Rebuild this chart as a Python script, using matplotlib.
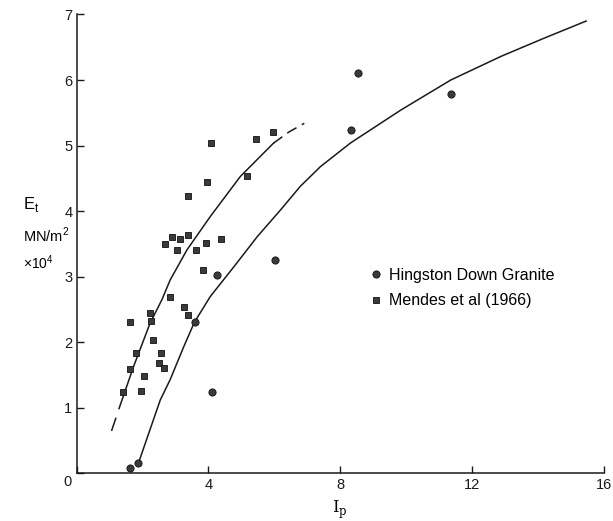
"""Tangent modulus E_t against point-load index I_p: Hingston Down Granite vs Mendes et al (1966)."""

import matplotlib

matplotlib.use("Agg")
import matplotlib.pyplot as plt
from matplotlib.lines import Line2D

# Hingston Down Granite (circles)
hingston_ip = [1.62, 1.88, 3.58, 4.10, 4.26, 6.02, 8.33, 8.55, 11.35]
hingston_et = [0.08, 0.16, 2.31, 1.25, 3.02, 3.25, 5.24, 6.11, 5.78]

# Mendes et al (1966) (squares)
mendes_ip = [4.09, 5.45, 5.95, 3.97, 5.16, 3.38, 2.89, 3.14, 3.38, 2.68,
             3.05, 3.93, 3.62, 4.37, 3.84, 2.85, 3.26, 3.38, 2.23, 1.63,
             2.26, 2.32, 1.79, 2.55, 2.51, 2.66, 1.62, 2.04, 1.97, 1.41]
mendes_et = [5.04, 5.10, 5.21, 4.44, 4.54, 4.23, 3.61, 3.58, 3.64, 3.50,
             3.41, 3.52, 3.41, 3.58, 3.10, 2.69, 2.54, 2.41, 2.44, 2.31,
             2.32, 2.03, 1.83, 1.83, 1.69, 1.61, 1.59, 1.49, 1.26, 1.24]

# hand-drawn trend curves
hingston_curve_ip = [1.88, 2.54, 2.84, 3.25, 3.58, 4.06, 4.77, 5.48, 6.19, 6.79,
                     7.40, 8.31, 9.83, 11.35, 12.87, 14.19, 15.46]
hingston_curve_et = [0.16, 1.12, 1.43, 1.93, 2.31, 2.70, 3.15, 3.61, 4.02, 4.38,
                     4.68, 5.04, 5.54, 6.00, 6.36, 6.64, 6.90]

mendes_curve_ip = [1.29, 1.73, 2.23, 2.59, 2.84, 3.35, 4.06, 4.97, 5.98]
mendes_curve_et = [0.99, 1.63, 2.29, 2.65, 2.95, 3.41, 3.92, 4.53, 5.04]
mendes_low_dash_ip = [1.07, 1.19]
mendes_low_dash_et = [0.66, 0.84]
mendes_high_dash_ip = [5.98, 6.45, 6.91]
mendes_high_dash_et = [5.04, 5.21, 5.34]

x_ticks = [0, 4, 8, 12, 16]
y_ticks = [0, 1, 2, 3, 4, 5, 6, 7]

plt.rcParams.update(
    {
        "font.family": ["Liberation Sans", "DejaVu Sans"],
        "font.size": 10.5,
    }
)

fig = plt.figure(figsize=(6.13, 5.21), dpi=100)
ax = fig.add_axes([0.1248, 0.0912, 0.8605, 0.881])

ink = "#1a1a1a"
mark = "#3a3a3a"

ax.plot(hingston_curve_ip, hingston_curve_et, color=ink, lw=1.1)
ax.plot(mendes_curve_ip, mendes_curve_et, color=ink, lw=1.1)
ax.plot(mendes_low_dash_ip, mendes_low_dash_et, color=ink, lw=1.1)
ax.plot(mendes_high_dash_ip, mendes_high_dash_et, color=ink, lw=1.1, dashes=(7, 4))

ax.plot(hingston_ip, hingston_et, "o", ms=5.2, color=mark, mec="#111111", mew=0.6)
ax.plot(mendes_ip, mendes_et, "s", ms=4.6, color=mark, mec="#111111", mew=0.6)

ax.set_xlim(0, 16)
ax.set_ylim(0, 7)
ax.set_xticks(x_ticks)
ax.set_xticklabels([""] + [str(t) for t in x_ticks[1:]])
ax.set_yticks(y_ticks)
ax.set_yticklabels([""] + [str(t) for t in y_ticks[1:]])
ax.tick_params(axis="x", direction="in", length=5, width=1, pad=3, colors=ink)
ax.tick_params(axis="y", direction="in", length=5, width=1, pad=3, colors=ink)
for side in ("top", "right"):
    ax.spines[side].set_visible(False)
for side in ("left", "bottom"):
    ax.spines[side].set_linewidth(1.1)
    ax.spines[side].set_color(ink)

# shared origin label
ax.text(-0.15, -0.03, "0", ha="right", va="top", fontsize=10.5, color=ink)

ax.set_xlabel("I$_{\\mathregular{p}}$", fontsize=12, family="DejaVu Serif", labelpad=5)

fig.text(0.037, 0.608, "E$_{\\mathregular{t}}$", fontsize=12, ha="left", va="center")
fig.text(0.037, 0.548, "MN/m$^{\\mathregular{2}}$", fontsize=10.5, ha="left", va="center")
fig.text(0.037, 0.495, "\u00d710$^{\\mathregular{4}}$", fontsize=10, ha="left", va="center")

handles = [
    Line2D([], [], ls="none", marker="o", ms=5.2, color=mark, mec="#111111", mew=0.6),
    Line2D([], [], ls="none", marker="s", ms=4.6, color=mark, mec="#111111", mew=0.6),
]
ax.legend(
    handles,
    ["Hingston Down Granite", "Mendes et al (1966)"],
    loc="upper left",
    bbox_to_anchor=(0.557, 0.4477),
    frameon=False,
    borderpad=0,
    borderaxespad=0,
    handlelength=0.7,
    handletextpad=0.45,
    labelspacing=0.65,
    fontsize=11.5,
)

fig.savefig("out.png", dpi=100)
